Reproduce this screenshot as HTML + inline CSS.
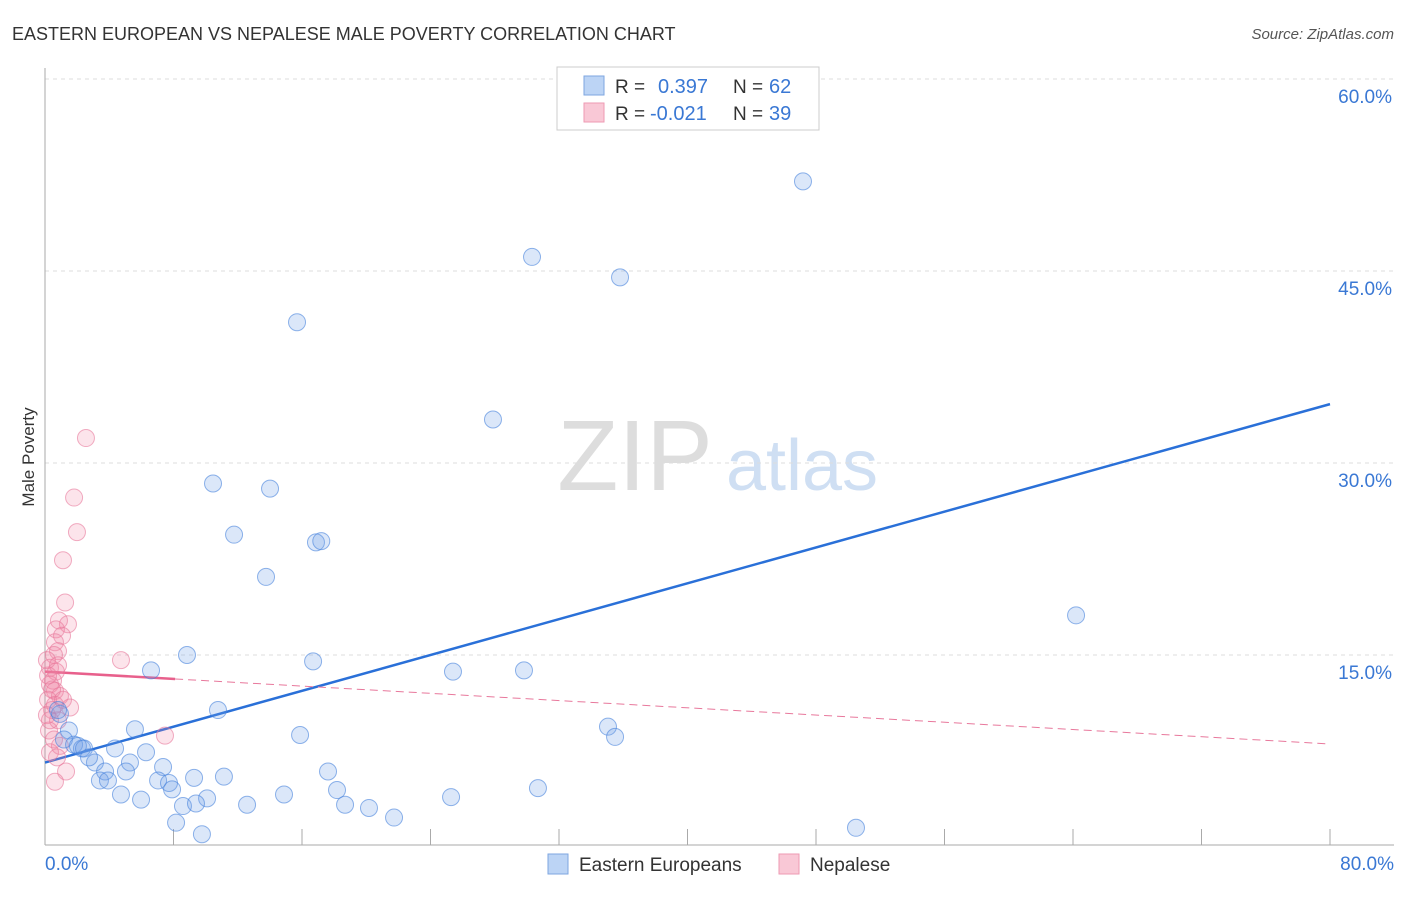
<!DOCTYPE html>
<html><head><meta charset="utf-8"><style>
body{margin:0;background:#fff;font-family:"Liberation Sans",sans-serif}
svg text{font-family:"Liberation Sans",sans-serif}
</style></head><body>
<svg id="c" width="1406" height="892">
<text x="12" y="40" font-size="18" fill="#333">EASTERN EUROPEAN VS NEPALESE MALE POVERTY CORRELATION CHART</text>
<text x="1394" y="39" font-size="15" fill="#555" font-style="italic" text-anchor="end">Source: ZipAtlas.com</text>
<text x="34" y="457" font-size="17" fill="#333" text-anchor="middle" transform="rotate(-90 34 457)">Male Poverty</text>
<g><text x="635" y="490" font-size="100" fill="#ddd" font-family="Liberation Serif" text-anchor="middle">ZIP</text><text x="802" y="490" font-size="72" fill="#cfdff3" text-anchor="middle">atlas</text></g>
<g id="grid"></g><g id="axes"></g><g id="lines"></g><g id="pts"></g>
<g>
<rect x="557" y="67" width="262" height="63" fill="#fff" stroke="#ccc"/>
<rect x="584" y="76" width="20" height="19" fill="#bcd4f5" stroke="#7ea6e0"/>
<rect x="584" y="103" width="20" height="19" fill="#f9c8d6" stroke="#ee9ab3"/>
<text x="615" y="93" font-size="19" fill="#333">R =</text><text x="658" y="93" font-size="20" fill="#3a78d4">0.397</text>
<text x="733" y="93" font-size="19" fill="#333">N =</text><text x="769" y="93" font-size="20" fill="#3a78d4">62</text>
<text x="615" y="120" font-size="19" fill="#333">R =</text><text x="650" y="120" font-size="20" fill="#3a78d4">-0.021</text>
<text x="733" y="120" font-size="19" fill="#333">N =</text><text x="769" y="120" font-size="20" fill="#3a78d4">39</text>
</g>
<g>
<rect x="548" y="854" width="20" height="20" fill="#bcd4f5" stroke="#7ea6e0"/>
<text x="579" y="871" font-size="19" fill="#333">Eastern Europeans</text>
<rect x="779" y="854" width="20" height="20" fill="#f9c8d6" stroke="#ee9ab3"/>
<text x="810" y="871" font-size="19" fill="#333">Nepalese</text>
</g>
</svg>
<script>
const yTicks=[15,30,45,60];
const xTickLabels=["0.0%","80.0%"];
const blueX=[47.19,30.32,35.80,15.69,27.89,10.46,14.01,11.77,16.87,17.2,13.76,64.19,8.84,16.69,6.60,25.40,29.82,10.77,35.05,35.49,15.88,5.60,0.93,1.49,1.18,1.81,2.30,2.05,2.43,4.36,6.29,3.11,2.74,5.29,3.74,5.04,7.35,17.62,3.42,3.92,7.04,7.72,7.91,9.28,11.14,18.18,4.73,5.98,10.09,8.59,9.40,12.58,14.88,18.68,20.17,25.28,30.69,21.73,8.16,9.77,50.49,0.81];
const blueY=[52.0,46.1,44.5,41.0,33.4,28.4,28.0,24.4,23.8,23.9,21.1,18.1,15.0,14.5,13.8,13.7,13.8,10.7,9.4,8.6,8.75,9.2,10.4,9.1,8.4,8.0,7.7,7.9,7.7,7.7,7.4,6.6,7.0,6.6,5.9,5.9,6.25,5.9,5.2,5.2,5.2,5.0,4.5,5.4,5.5,4.45,4.1,3.7,3.8,3.2,3.4,3.3,4.1,3.3,3.05,3.9,4.6,2.3,1.9,1.0,1.5,10.7];
const pinkX=[2.55,1.81,1.99,1.12,1.25,1.43,0.87,0.68,1.06,0.62,0.81,0.56,4.73,0.31,0.68,0.50,0.31,0.62,0.93,0.19,1.56,0.44,0.12,0.81,0.25,0.93,0.31,0.75,1.31,0.62,7.47,0.44,0.19,0.12,0.62,1.12,0.81,0.31,0.56];
const pinkY=[31.95,27.3,24.6,22.4,19.1,17.4,17.7,17.0,16.5,16.0,15.3,15.0,14.6,14.0,13.7,13.0,12.7,12.2,11.8,11.5,10.9,10.7,10.3,9.9,9.1,7.9,7.4,7.0,5.9,5.1,8.7,12.3,13.4,14.6,11.1,11.5,14.2,9.9,8.4];
const blueTrend=[6.6,34.6];
const pinkTrend=[13.7,8.05];
const pinkSolidEnd=8.1;
const NS="http://www.w3.org/2000/svg";
const xs=v=>45+v/80*1285, ys=v=>847-v/15*192;
function mk(p,t,a){const e=document.createElementNS(NS,t);for(const k in a)e.setAttribute(k,a[k]);p.appendChild(e);return e;}
const grid=document.getElementById('grid'),axes=document.getElementById('axes'),lines=document.getElementById('lines'),pts=document.getElementById('pts');
yTicks.forEach(v=>{
 const l=mk(grid,'line',{x1:45,x2:1394,y1:ys(v),y2:ys(v),stroke:'#ddd','stroke-dasharray':'4,4'});
 
 
 const t=mk(grid,'text',{x:1392,y:ys(v)+24,'font-size':19,fill:'#3a78d4','text-anchor':'end'});
 t.textContent=v.toFixed(1)+'%';
 
 
});
mk(axes,'line',{x1:45,x2:45,y1:68,y2:845,stroke:'#aaa'});
mk(axes,'line',{x1:45,x2:1394,y1:845,y2:845,stroke:'#aaa'});
for(let i=0;i<=10;i++){const x=xs(i*8);mk(axes,'line',{x1:x,x2:x,y1:829,y2:845,stroke:'#aaa'});}
[[0,'start',45],[80,'end',1394]].forEach((d,i)=>{
 const t=mk(axes,'text',{x:d[2],y:870,'font-size':19,fill:'#3a78d4','text-anchor':d[1]});
 t.textContent=xTickLabels[i];
 
 
});
function dot(x,y,f,s,n){const c=mk(pts,'circle',{cx:xs(x),cy:ys(y),r:8.5,fill:f,stroke:s,'stroke-width':1});
 
 }
pinkX.forEach((x,i)=>dot(x,pinkY[i],'rgba(240,130,165,0.22)','rgba(232,120,155,0.6)','nepalese-point'));
blueX.forEach((x,i)=>dot(x,blueY[i],'rgba(110,160,230,0.25)','rgba(70,130,220,0.6)','eastern-european-point'));
const bl=mk(lines,'line',{x1:xs(0),y1:ys(blueTrend[0]),x2:xs(80),y2:ys(blueTrend[1]),stroke:'#2a70d8','stroke-width':2.5});


const pe=pinkTrend[0]+(pinkTrend[1]-pinkTrend[0])*pinkSolidEnd/80;
const p1=mk(lines,'line',{x1:xs(0),y1:ys(pinkTrend[0]),x2:xs(pinkSolidEnd),y2:ys(pe),stroke:'#e8608c','stroke-width':2.5});


const p2=mk(lines,'line',{x1:xs(pinkSolidEnd),y1:ys(pe),x2:xs(80),y2:ys(pinkTrend[1]),stroke:'#e8789c','stroke-width':1,'stroke-dasharray':'8,5'});


</script>
</body></html>
